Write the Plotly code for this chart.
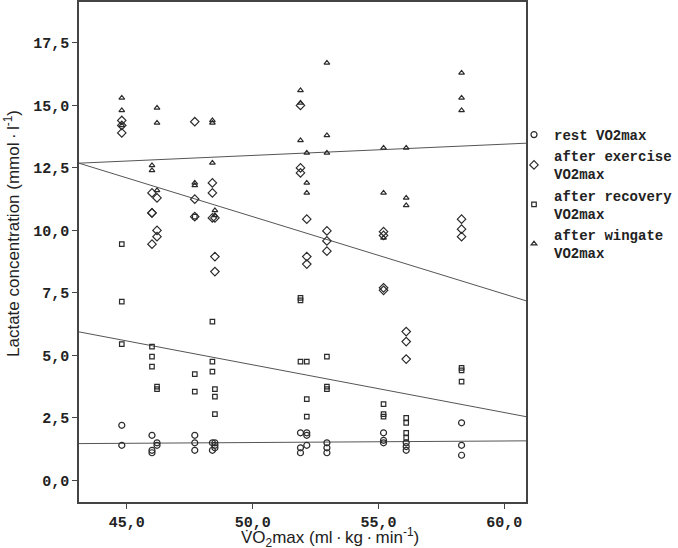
import plotly.graph_objects as go

# ---- data ----
rest_x = [44.8, 44.8, 46.0, 46.0, 46.0, 46.2, 46.2, 47.7, 47.7, 47.7, 48.4, 48.4,
          48.5, 48.5, 48.5, 51.9, 51.9, 51.9, 52.15, 52.15, 52.15, 52.95, 52.95, 52.95,
          55.2, 55.2, 55.2, 56.1, 56.1, 56.1, 58.3, 58.3, 58.3]
rest_y = [2.2, 1.4, 1.8, 1.2, 1.1, 1.5, 1.4, 1.8, 1.5, 1.2, 1.5, 1.2,
          1.5, 1.4, 1.3, 1.9, 1.3, 1.1, 1.9, 1.8, 1.4, 1.5, 1.3, 1.1,
          1.9, 1.6, 1.5, 1.5, 1.35, 1.2, 2.3, 1.4, 1.0]

exercise_x = [44.8, 44.8, 44.8, 46.0, 46.0, 46.0, 46.0, 46.2, 46.2, 46.2, 47.7, 47.7, 47.7,
              48.4, 48.4, 48.4, 48.5, 48.5, 48.5, 51.9, 51.9, 51.9, 52.15, 52.15, 52.15,
              52.95, 52.95, 52.95, 55.2, 55.2, 55.2, 55.2, 56.1, 56.1, 56.1, 58.3, 58.3, 58.3]
exercise_y = [14.4, 14.2, 13.9, 11.5, 10.7, 10.7, 9.45, 11.3, 10.0, 9.75, 14.35, 11.25, 10.55,
              11.9, 11.5, 10.5, 10.5, 8.95, 8.35, 15.0, 12.5, 12.3, 10.45, 8.95, 8.65,
              9.98, 9.58, 9.17, 9.95, 9.8, 7.7, 7.6, 5.95, 5.55, 4.85, 10.45, 10.05, 9.75]

recovery_x = [44.8, 44.8, 44.8, 46.0, 46.0, 46.0, 46.2, 46.2, 47.7, 47.7, 47.7,
              48.4, 48.4, 48.4, 48.5, 48.5, 48.5, 51.9, 51.9, 51.9, 52.15, 52.15, 52.15,
              52.95, 52.95, 52.95, 55.2, 55.2, 55.2, 56.1, 56.1, 56.1, 56.1, 58.3, 58.3, 58.3]
recovery_y = [9.45, 7.15, 5.45, 5.35, 4.95, 4.55, 3.75, 3.65, 10.55, 4.25, 3.55,
              6.35, 4.75, 4.35, 3.65, 3.35, 2.65, 7.3, 7.2, 4.75, 4.75, 3.25, 2.55,
              4.95, 3.75, 3.65, 3.05, 2.65, 2.55, 2.5, 2.3, 1.9, 1.7, 4.5, 4.4, 3.95]

wingate_x = [44.8, 44.8, 44.8, 46.0, 46.0, 46.2, 46.2, 46.2, 47.7, 47.7,
             48.4, 48.4, 48.4, 48.5, 48.5, 51.9, 51.9, 51.9, 52.15, 52.15, 52.15,
             52.95, 52.95, 52.95, 55.2, 55.2, 55.2, 56.1, 56.1, 56.1, 58.3, 58.3, 58.3]
wingate_y = [15.3, 14.8, 14.2, 12.6, 12.4, 14.9, 14.3, 11.6, 11.9, 11.8,
             14.4, 14.3, 12.7, 10.8, 10.6, 15.6, 15.1, 13.6, 13.1, 11.9, 11.5,
             16.7, 13.8, 13.1, 13.3, 11.5, 9.7, 13.3, 11.3, 11.0, 16.3, 15.3, 14.8]

# fitted regression lines: (intercept, slope)
fit_rest = (1.20, 0.0062)
fit_exercise = (26.05, -0.310)
fit_recovery = (14.17, -0.191)
fit_wingate = (10.75, 0.045)

x_range = [43.1, 60.86]
y_range = [-0.87, 19.14]
x_ticks = [45, 50, 55, 60]
y_ticks = [0, 2.5, 5, 7.5, 10, 12.5, 15, 17.5]

series = [
    ("rest VO2max", rest_x, rest_y, "circle-open", 6, fit_rest),
    ("after exercise<br>VO2max", exercise_x, exercise_y, "diamond-open", 6.5, fit_exercise),
    ("after recovery<br>VO2max", recovery_x, recovery_y, "square-open", 4.5, fit_recovery),
    ("after wingate<br>VO2max", wingate_x, wingate_y, "triangle-up-open", 5, fit_wingate),
]

mark_col = "#2a2a2a"
fig = go.Figure()
for name, xs, ys, sym, sz, fit in series:
    b0, b1 = fit
    fig.add_trace(go.Scatter(
        x=x_range, y=[b0 + b1 * v for v in x_range], mode="lines",
        line=dict(color="#555555", width=1), showlegend=False, hoverinfo="skip"))
for name, xs, ys, sym, sz, fit in series:
    fig.add_trace(go.Scatter(
        x=xs, y=ys, mode="markers", name=name,
        marker=dict(symbol=sym, size=sz, color=mark_col,
                    line=dict(color=mark_col, width=1.2))))

L, R, T, B = 79, 152, 2, 46
W, H = 678, 548
PW, PH = W - L - R, H - T - B

tick_font = dict(family="Liberation Mono", size=15, color="#222", weight="bold")
fig.update_layout(
    width=W, height=H,
    margin=dict(l=L, r=R, t=T, b=B, autoexpand=False),
    paper_bgcolor="white", plot_bgcolor="white",
    separators=",.",
    showlegend=True,
    legend=dict(x=(514 - L) / PW, y=(H - B - 119) / PH, xanchor="left", yanchor="top",
                font=dict(family="Liberation Mono", size=14, color="#222", weight="bold"),
                bgcolor="rgba(0,0,0,0)", tracegroupgap=0, itemwidth=30),
    xaxis=dict(range=x_range, tickvals=x_ticks, tickformat=".1f", automargin=False,
               showgrid=False, zeroline=False, showline=True, mirror=True,
               linecolor="#444", linewidth=1.5, ticks="outside", ticklen=5,
               tickcolor="#444", tickfont=tick_font),
    yaxis=dict(range=y_range, tickvals=y_ticks, tickformat=".1f", automargin=False,
               showgrid=False, zeroline=False, showline=True, mirror=True,
               linecolor="#444", linewidth=1.5, ticks="outside", ticklen=5,
               tickcolor="#444", tickfont=tick_font),
)
fig.add_annotation(
    text="Lactate concentration (mmol\u2009·\u2009l<sup>-1</sup>)", textangle=-90,
    xref="paper", yref="paper", x=(12 - L) / PW, y=(H - B - 234) / PH,
    xanchor="center", yanchor="middle", showarrow=False,
    font=dict(family="Liberation Sans", size=17, color="#222"))
fig.add_annotation(
    text="V\u0307O<sub>2</sub>max (ml\u2009·\u2009kg\u2009·\u2009min<sup>-1</sup>)",
    xref="paper", yref="paper", x=(330 - L) / PW, y=(H - B - 537) / PH,
    xanchor="center", yanchor="middle", showarrow=False,
    font=dict(family="Liberation Sans", size=17, color="#222"))

fig.write_html("out.html", post_script="document.body.style.margin='0';",
               config={"displayModeBar": False})
